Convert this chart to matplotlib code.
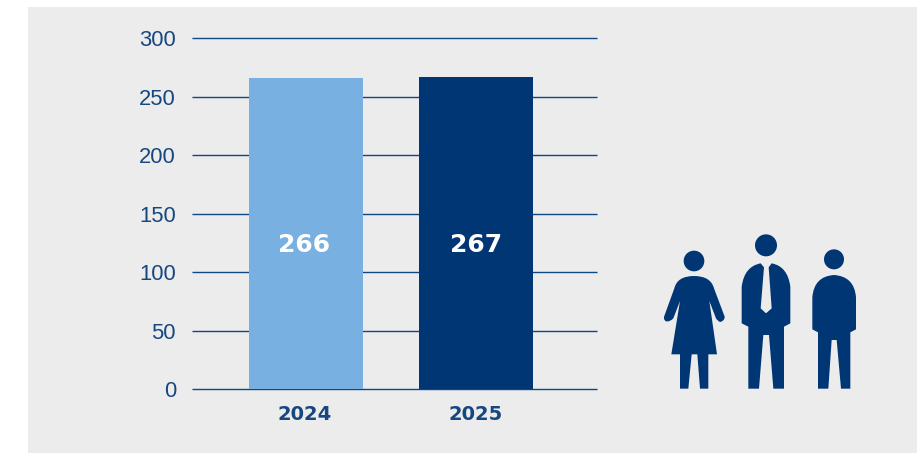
import matplotlib
matplotlib.use("Agg")
import matplotlib.pyplot as plt
from matplotlib.patches import Circle, PathPatch, Rectangle
from matplotlib.path import Path

W, H = 917, 453

years = ["2024", "2025"]
values = [266, 267]
bar_colors = ["#78B0E2", "#003673"]
y_ticks = [0, 50, 100, 150, 200, 250, 300]

NAVY = "#003673"
LINE = "#0F4684"
TEXT = "#17477F"
BG = "#ECECEC"

M, L, C, Z = Path.MOVETO, Path.LINETO, Path.CURVE3, Path.CLOSEPOLY


def shape(points):
    # points are (x, y) or (x, y, 'c') for a quadratic control point
    verts, codes = [], []
    after_ctrl = False
    for i, p in enumerate(points):
        verts.append(p[:2])
        if i == 0:
            codes.append(M)
        elif len(p) == 3 or after_ctrl:
            codes.append(C)
        else:
            codes.append(L)
        after_ctrl = len(p) == 3
    if after_ctrl:
        verts.append(points[0][:2])
        codes.append(C)
    verts.append(points[0][:2])
    codes.append(Z)
    return Path(verts, codes)


fig = plt.figure(figsize=(W / 100, H / 100), dpi=100, facecolor="white")
fig.patches.append(Rectangle((28 / W, 0), 1 - 28 / W, 1 - 7 / H, transform=fig.transFigure,
                             color=BG, lw=0, zorder=-1))

# plot area
ax = fig.add_axes([192 / W, 1 - 389 / H, 405 / W, 350.5 / H])
ax.patch.set_alpha(0)
ax.bar(range(2), values, width=0.67, color=bar_colors, zorder=3)
ax.set_xlim(-0.6706, 1.7118)
ax.set_ylim(0, 300)
ax.set_yticks(y_ticks)
ax.tick_params(axis="y", length=0, pad=11.5, labelsize=15.8, labelcolor=TEXT)
for t in ax.get_yticklabels():
    t.set_fontfamily("Liberation Sans")
ax.set_xticks([])
ax.grid(axis="y", color=LINE, lw=1.0, zorder=1, clip_on=False, solid_capstyle="butt")
ax.set_axisbelow(True)
for s in ax.spines.values():
    s.set_visible(False)

for i, (year, v) in enumerate(zip(years, values)):
    ax.annotate(year, (i, 0), xytext=(-1.5 if i == 0 else 0, -26), textcoords="offset pixels",
                ha="center", va="center", family="DejaVu Sans", weight="bold", fontsize=14, color=TEXT)
    ax.annotate(str(v), (i, 124), xytext=(-2 if i == 0 else 0, -1), textcoords="offset pixels",
                ha="center", va="center", family="DejaVu Sans", weight="bold", fontsize=18, color="white", zorder=4)

# people icons, drawn in pixel coordinates
icons = fig.add_axes([0, 0, 1, 1])
icons.set_xlim(0, W)
icons.set_ylim(H, 0)
icons.axis("off")
icons.patch.set_alpha(0)


def px(x, y, *rest):
    return (640 + x / 3, 220 + y / 3, *rest)


woman = [(103, 205), (112, 168, 'c'), (162, 168), (212, 168, 'c'), (222, 205), (254, 290), (254, 303, 'c'),
         (240, 306), (232, 302, 'c'), (228, 295), (208, 243), (231, 403), (205, 403), (205, 506), (180, 506),
         (172, 403), (155, 403), (145, 506), (120, 506), (120, 403), (94, 403), (120, 243), (100, 295),
         (90, 306, 'c'), (78, 304), (68, 298, 'c'), (74, 285)]
man = [(362, 130), (372, 142), (362, 265), (378, 280), (395, 265), (386, 142), (395, 130),
       (443, 139, 'c'), (451, 200), (451, 310), (432, 320), (432, 506), (400, 506), (387, 345), (370, 345),
       (357, 506), (325, 506), (325, 320), (305, 310), (305, 200), (313, 139, 'c')]
man2 = [(582, 165), (643, 169, 'c'), (648, 232), (648, 328), (631, 337), (631, 506), (603, 506), (590, 360),
        (575, 360), (565, 506), (534, 506), (534, 337), (517, 328), (517, 232), (522, 169, 'c')]
heads = [(162, 123, 31), (378, 76, 33), (582, 118, 30)]

for body in (woman, man, man2):
    icons.add_patch(PathPatch(shape([px(*p) for p in body]), fc=NAVY, lw=0))
for x, y, r in heads:
    cx, cy = px(x, y)
    icons.add_patch(Circle((cx, cy), r / 3, fc=NAVY, lw=0))

fig.savefig("out.png", dpi=100, facecolor=fig.get_facecolor())
